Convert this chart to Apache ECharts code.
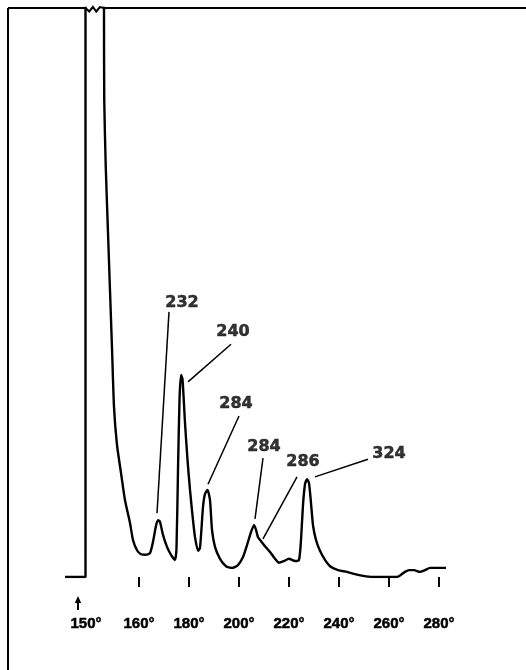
<!DOCTYPE html>
<html><head><meta charset="utf-8">
<script src="https://cdn.jsdelivr.net/npm/echarts@6/dist/echarts.min.js"></script>
<style>html,body{margin:0;padding:0;background:#fff}#c{width:526px;height:670px}</style>
</head><body><div id="c"></div>
<script>
// Column temperature (deg, linear programme scale) and detector response (arbitrary units, 0-100 full scale)
const temperature = [130.4,138.6,138.6,146.0,146.0,146.1,146.7,147.6,149.2,150.0,151.2,152.8,154.4,156.4,157.6,159.2,160.8,162.8,164.4,165.6,166.8,167.6,168.4,169.6,171.2,172.8,174.4,175.0,175.6,176.2,176.8,177.4,178.4,179.4,180.4,181.6,182.4,183.6,184.4,185.6,186.4,187.4,188.4,189.2,190.4,192.4,194.8,197.2,199.6,201.6,203.2,204.8,206.0,206.8,207.6,208.8,210.4,212.4,214.4,216.0,218.0,220.0,222.4,224.0,224.8,225.6,226.4,227.2,228.0,228.8,229.6,230.8,232.4,234.4,236.4,239.6,243.2,246.4,249.6,253.2,263.2,264.8,266.4,268.0,270.0,272.4,274.4,276.4,282.8];
const response = [0,0,150,150,100,83.8,72.1,60.5,40.2,29.9,23.2,18.3,13.5,9.5,6.5,4.7,4.0,3.9,4.2,6.2,9.0,10.0,9.7,7.4,5.3,3.9,3.0,5.1,18.8,31.1,35.5,34.8,27.1,20.6,15.3,10.0,7.0,4.6,5.1,12.3,14.6,15.3,13.5,8.3,5.3,3.2,1.9,1.6,2.1,3.5,5.6,7.9,9.1,8.3,7.0,6.3,5.4,4.4,3.2,2.5,2.8,3.2,2.8,3.0,6.5,12.7,16.3,17.2,16.5,13.0,9.1,6.5,4.6,3.0,1.9,1.2,0.9,0.5,0.2,0,0,0.4,0.9,1.2,1.2,0.9,1.2,1.6,1.6];

const tickValues = [160,180,200,220,240,260,280];
const tickLabels = ['160°','180°','200°','220°','240°','260°','280°'];
const injectionAt = 135.6;
const injectionLabel = '150°';

const peakNames = ['232','240','284','284','286','324'];
const peakLabelX = [177.2,197.6,198.8,210.0,225.6,260.0];
const peakLabelY = [48.2,43.1,30.4,22.8,20.2,21.6];
const leaderStart = [[172.0,46.6],[196.8,40.9],[200.0,28.3],[209.6,20.9],[223.2,17.6],[251.6,20.7]];
const leaderEnd = [[167.2,11.2],[179.6,34.3],[187.6,16.3],[206.4,10.2],[209.6,6.7],[230.4,17.6]];

const chart = echarts.init(document.getElementById('c'), null, {renderer:'canvas'});
const labelMap = {};
tickValues.forEach((v,i)=>labelMap[v]=tickLabels[i]);

chart.setOption({
  animation:false,
  backgroundColor:'#fff',
  grid:{left:64, top:8, width:400, height:569},
  xAxis:{
    type:'value', min:130, max:290, offset:24,
    axisLine:{show:false}, splitLine:{show:false},
    axisTick:{show:true, customValues:tickValues, length:10, lineStyle:{color:'#000', width:2}},
    axisLabel:{
      customValues:[injectionAt].concat(tickValues), margin:15,
      color:'#000', fontFamily:'Liberation Sans', fontWeight:'bold', fontSize:15,
      textBorderColor:'#000', textBorderWidth:0.5,
      formatter:(v)=> Math.abs(v-injectionAt)<1e-6 ? '{s|'+injectionLabel+'}' : (labelMap[v]||''),
      rich:{s:{color:'#000', fontFamily:'Liberation Sans', fontWeight:'bold', fontSize:15, padding:[0,0,0,16],
        textBorderColor:'#000', textBorderWidth:0.5}}
    }
  },
  yAxis:{type:'value', min:0, max:100, show:false},
  series:[
    {
      type:'line', data:temperature.map((t,i)=>[t,response[i]]),
      showSymbol:false, symbol:'none', clip:true, smooth:0.2,
      lineStyle:{color:'#000', width:2.4}, z:3,
      markLine:{
        symbol:['none','none'], silent:true, animation:false,
        label:{show:false},
        lineStyle:{color:'#000', width:1.5, type:'solid'},
        data: leaderStart.map((s,i)=>[{coord:s},{coord:leaderEnd[i]}])
      }
    },
    {
      type:'scatter', symbolSize:1, itemStyle:{color:'rgba(0,0,0,0)'},
      data: peakNames.map((n,i)=>({name:n, value:[peakLabelX[i], peakLabelY[i]]})),
      label:{show:true, position:'inside', formatter:(p)=>p.name, color:'#000',
        fontFamily:'DejaVu Sans', fontWeight:'bold', fontSize:16,
        textBorderColor:'#000', textBorderWidth:0.5},
      z:4
    }
  ]
});

// decorations: frame, scale break at the off-scale peak, injection arrow
const px = (x,y)=>chart.convertToPixel({gridIndex:0},[x,y]);
const leftPk = px(temperature[2],100)[0];
const rightPk = px(temperature[3],100)[0];
const arrowX = chart.convertToPixel({xAxisIndex:0}, injectionAt);
const topY = 8;
const w = rightPk-leftPk;
chart.setOption({graphic:[
  {type:'line', shape:{x1:8,y1:topY,x2:8,y2:670}, style:{stroke:'#000', lineWidth:2}},
  {type:'line', shape:{x1:8,y1:topY,x2:leftPk,y2:topY}, style:{stroke:'#000', lineWidth:2}},
  {type:'line', shape:{x1:rightPk,y1:topY,x2:526,y2:topY}, style:{stroke:'#000', lineWidth:2}},
  {type:'polyline', shape:{points:[[leftPk,topY],[leftPk+w*0.2,topY+3.5],[leftPk+w*0.4,topY-1],[leftPk+w*0.58,topY+3.5],[leftPk+w*0.78,topY-1],[rightPk,topY]]},
    style:{stroke:'#000', lineWidth:2, fill:null}},
  {type:'line', shape:{x1:arrowX,y1:601,x2:arrowX,y2:610}, style:{stroke:'#000', lineWidth:2}},
  {type:'polygon', shape:{points:[[arrowX,596],[arrowX-3.2,603],[arrowX+3.2,603]]}, style:{fill:'#000'}}
]});
</script>
</body></html>
